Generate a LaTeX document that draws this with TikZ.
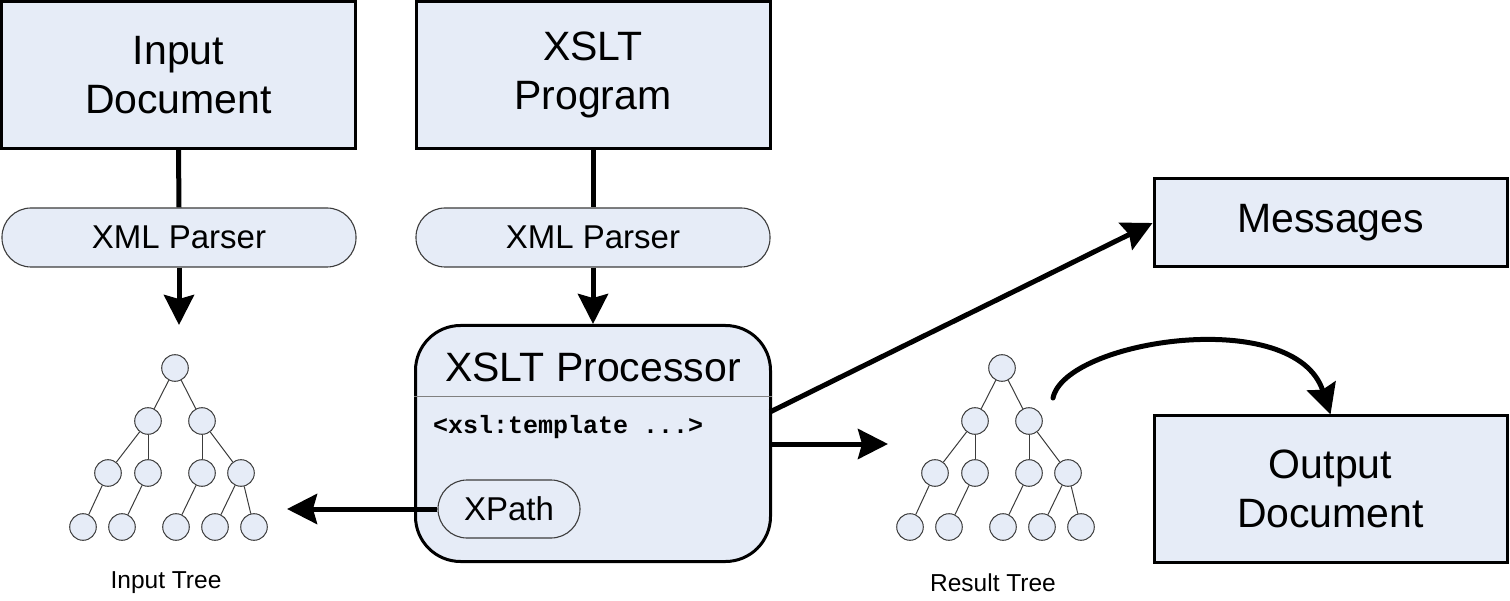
\documentclass[tikz,border=0pt]{standalone}
\usepackage{fontspec}
\setmainfont{Liberation Sans}
\newfontfamily\monob{Liberation Mono}
\usetikzlibrary{arrows.meta}
\definecolor{boxfill}{RGB}{230,236,247}
\definecolor{thinline}{RGB}{60,60,60}
\begin{document}
\begin{tikzpicture}[x=1pt,y=-1pt,
  bigbox/.style={draw=black,line width=3pt,fill=boxfill,align=center,inner sep=0pt,
     font=\fontsize{41}{49}\selectfont},
  parser/.style={draw=thinline,line width=1.1pt,fill=boxfill,rounded corners=29pt,
     minimum width=354pt,minimum height=59pt,inner sep=0pt,font=\fontsize{33}{38}\selectfont},
  tn/.style={circle,draw=thinline,line width=1pt,fill=boxfill,minimum size=26.6pt,inner sep=0pt},
  te/.style={draw=thinline,line width=1pt},
  conn/.style={line width=5pt,black},
  arr/.style={conn,-{Stealth[length=30pt,width=30pt,inset=4pt]}},
  lbl/.style={font=\fontsize{24.5}{28}\selectfont}]
\useasboundingbox (0,0) rectangle (1510,601);
% top boxes
\node[bigbox,minimum width=354pt,minimum height=147pt] (indoc) at (178.5,75) {Input\\Document};
\node[bigbox,minimum width=354pt,minimum height=147pt] (prog) at (593,75) {XSLT\\Program};
\node[parser] (p1) at (179,237.5) {XML Parser};
\node[parser] (p2) at (593,237.5) {XML Parser};
% processor
\node[draw=black,line width=3pt,fill=boxfill,rounded corners=45pt,minimum width=355pt,
  minimum height=236pt,inner sep=0pt] (proc) at (593,443.5) {};
\coordinate (dv) at (0,397);
\draw[line width=1pt,draw=gray] (proc.west |- dv) -- (proc.east |- dv);
\node[font=\fontsize{41}{49}\selectfont,anchor=base] (ptitle) at (593,382) {XSLT Processor};
\node[font=\monob\bfseries\fontsize{25}{30}\selectfont,anchor=base west,inner sep=0pt] (tmpl) at (433,433) {<xsl:template ...>};
\node[draw=thinline,line width=1.1pt,fill=boxfill,rounded corners=29pt,minimum width=142pt,
  minimum height=58pt,inner sep=0pt,font=\fontsize{33}{38}\selectfont] (xp) at (509,509) {XPath};
% right boxes
\node[bigbox,minimum width=353pt,minimum height=88pt] (msg) at (1330.5,223) {Messages};
\node[bigbox,minimum width=353pt,minimum height=146pt] (out) at (1330.5,489) {Output\\Document};
% trees
\foreach \p/\dx in {i/0,r/827}{
  \begin{scope}[xshift=\dx pt]
  \node[tn] (\p0) at (175,368) {};
  \node[tn] (\p1) at (148,421) {};
  \node[tn] (\p2) at (202,421) {};
  \node[tn] (\p3) at (108,473) {};
  \node[tn] (\p4) at (148,473) {};
  \node[tn] (\p5) at (202,473) {};
  \node[tn] (\p6) at (241,473) {};
  \node[tn] (\p7) at (83,527) {};
  \node[tn] (\p8) at (122,527) {};
  \node[tn] (\p9) at (176,527) {};
  \node[tn] (\p10) at (215,527) {};
  \node[tn] (\p11) at (254,527) {};
  \draw[te] (\p0) -- (\p1); \draw[te] (\p0) -- (\p2);
  \draw[te] (\p1) -- (\p3); \draw[te] (\p1) -- (\p4);
  \draw[te] (\p2) -- (\p5); \draw[te] (\p2) -- (\p6);
  \draw[te] (\p3) -- (\p7); \draw[te] (\p4) -- (\p8);
  \draw[te] (\p5) -- (\p9); \draw[te] (\p6) -- (\p10); \draw[te] (\p6) -- (\p11);
  \end{scope}
}
\node[lbl] (itl) at (166,583) {Input Tree};
\node[lbl] (rtl) at (993,583) {Result Tree};
% connectors
\draw[conn] (indoc.south) -- (p1.north);
\draw[conn] (prog.south) -- (p2.north);
\coordinate (itip) at (179,325);
\draw[arr] (p1.south) -- (itip);
\draw[arr] (p2.south) -- (proc.north);
\coordinate (xtip) at (287,509);
\draw[arr] (xp.west) -- (xtip);
\coordinate (rtip) at (888,444);
\coordinate (rst) at (770,444);
\draw[arr] (rst) -- (rtip);
\coordinate (mst) at (770,412);
\draw[arr] (mst) -- (msg.west);
\coordinate (cs) at (1053,398);
\draw[arr,line cap=round] (cs) .. controls (1065,340) and (1295,305) .. (out.north);
\end{tikzpicture}
\end{document}
